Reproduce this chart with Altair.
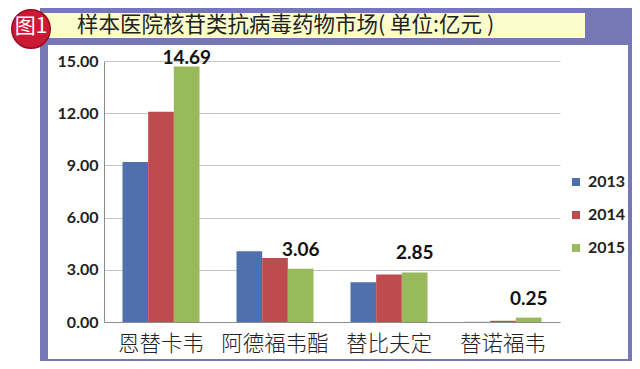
import altair as alt
import pandas as pd

categories = ["恩替卡韦", "阿德福韦酯", "替比夫定", "替诺福韦"]
years = ["2013", "2014", "2015"]
v2013 = [9.20, 4.07, 2.28, 0.01]
v2014 = [12.08, 3.68, 2.73, 0.07]
v2015 = [14.69, 3.06, 2.85, 0.25]
y_ticks = [0, 3, 6, 9, 12, 15]
title_text = "样本医院核苷类抗病毒药物市场( 单位:亿元 )"
badge_text = "图1"
colors = ["#4f6fad", "#be4b4d", "#98ba5a"]

rows = []
for yr, vals in zip(years, [v2013, v2014, v2015]):
    for c, v in zip(categories, vals):
        rows.append({"drug": c, "year": yr, "value": v})
df = pd.DataFrame(rows)

one = pd.DataFrame({"k": [1]})
PURPLE = "#7578b4"

def rect(x, x2, y, y2, color):
    return alt.Chart(one).mark_rect(color=color, strokeWidth=0).encode(
        x=alt.value(x), x2=alt.value(x2), y=alt.value(y), y2=alt.value(y2)
    )

frame = [
    rect(-64, 536, -61, -16, PURPLE),
    rect(-64, -56, -61, 308, PURPLE),
    rect(524, 536, -61, 308, PURPLE),
    rect(-64, 536, 298, 308, PURPLE),
    rect(-62, 481, -48, -23, "#fdfdcc"),
]

badge = alt.Chart(one).mark_point(
    filled=True, shape="circle", size=1480, opacity=1,
    fill="#cc1a36", stroke="#9a0c22", strokeWidth=1.5,
).encode(x=alt.value(-73), y=alt.value(-32))

badge_t = alt.Chart(one).mark_text(
    text=badge_text, font="Noto Sans CJK SC", fontSize=21, color="white",
    align="center", baseline="middle"
).encode(x=alt.value(-73), y=alt.value(-34))

title = alt.Chart(one).mark_text(
    text=title_text, font="Noto Sans CJK SC", fontSize=21.5, color="#222222",
    align="left", baseline="middle"
).encode(x=alt.value(-27), y=alt.value(-35))

bars = alt.Chart(df).mark_bar().encode(
    x=alt.X("drug:N", sort=categories, title=None,
            scale=alt.Scale(paddingInner=0, paddingOuter=0),
            axis=alt.Axis(labelAngle=0, labelFont="Noto Sans CJK SC", labelFontSize=21.5,
                          labelFontWeight=300,
                          labelColor="#222222", labelPadding=11, ticks=False,
                          domainColor="#8c8c8c", grid=False)),
    xOffset=alt.XOffset("year:N", sort=years,
                        scale=alt.Scale(paddingInner=0, paddingOuter=0.72)),
    y=alt.Y("value:Q", title=None, scale=alt.Scale(domain=[0, 15], nice=False),
            axis=alt.Axis(values=y_ticks, format=".2f", labelFont="Lato", labelFontWeight="bold",
                          labelFontSize=16, labelColor="#222222", ticks=False, labelPadding=6,
                          domainColor="#8c8c8c", gridColor="#c4c4c4")),
    color=alt.Color("year:N", sort=years, scale=alt.Scale(domain=years, range=colors),
                    legend=alt.Legend(title=None, orient="none", legendX=464, legendY=113,
                                      symbolType="square", symbolSize=64, symbolStrokeWidth=0,
                                      labelFont="Lato", labelFontWeight="bold", labelFontSize=16,
                                      labelColor="#222222", rowPadding=17, labelOffset=4,
                                      padding=0)),
)

label_base = alt.Chart(df).transform_filter(alt.datum.year == "2015").encode(
    x=alt.X("drug:N", sort=categories),
    xOffset=alt.XOffset("year:N", sort=years),
    y=alt.Y("value:Q"),
    text=alt.Text("value:Q", format=".2f"),
)
labels_low = label_base.transform_filter(alt.datum.value < 14).mark_text(
    font="Lato", fontWeight="bold", fontSize=19, color="#111111", baseline="alphabetic", dy=-13)
labels_high = label_base.transform_filter(alt.datum.value >= 14).mark_text(
    font="Lato", fontWeight="bold", fontSize=19, color="#111111", baseline="alphabetic", dy=-2)

chart = alt.layer(*frame, badge, badge_t, title, bars, labels_low, labels_high).properties(
    width=456, height=261,
    autosize=alt.AutoSizeParams(type="none"),
    padding={"left": 96, "top": 53, "right": 72, "bottom": 39},
    background="white",
).configure_view(strokeWidth=0)

chart.save("out.html", embed_options={"renderer": "svg", "actions": False})
